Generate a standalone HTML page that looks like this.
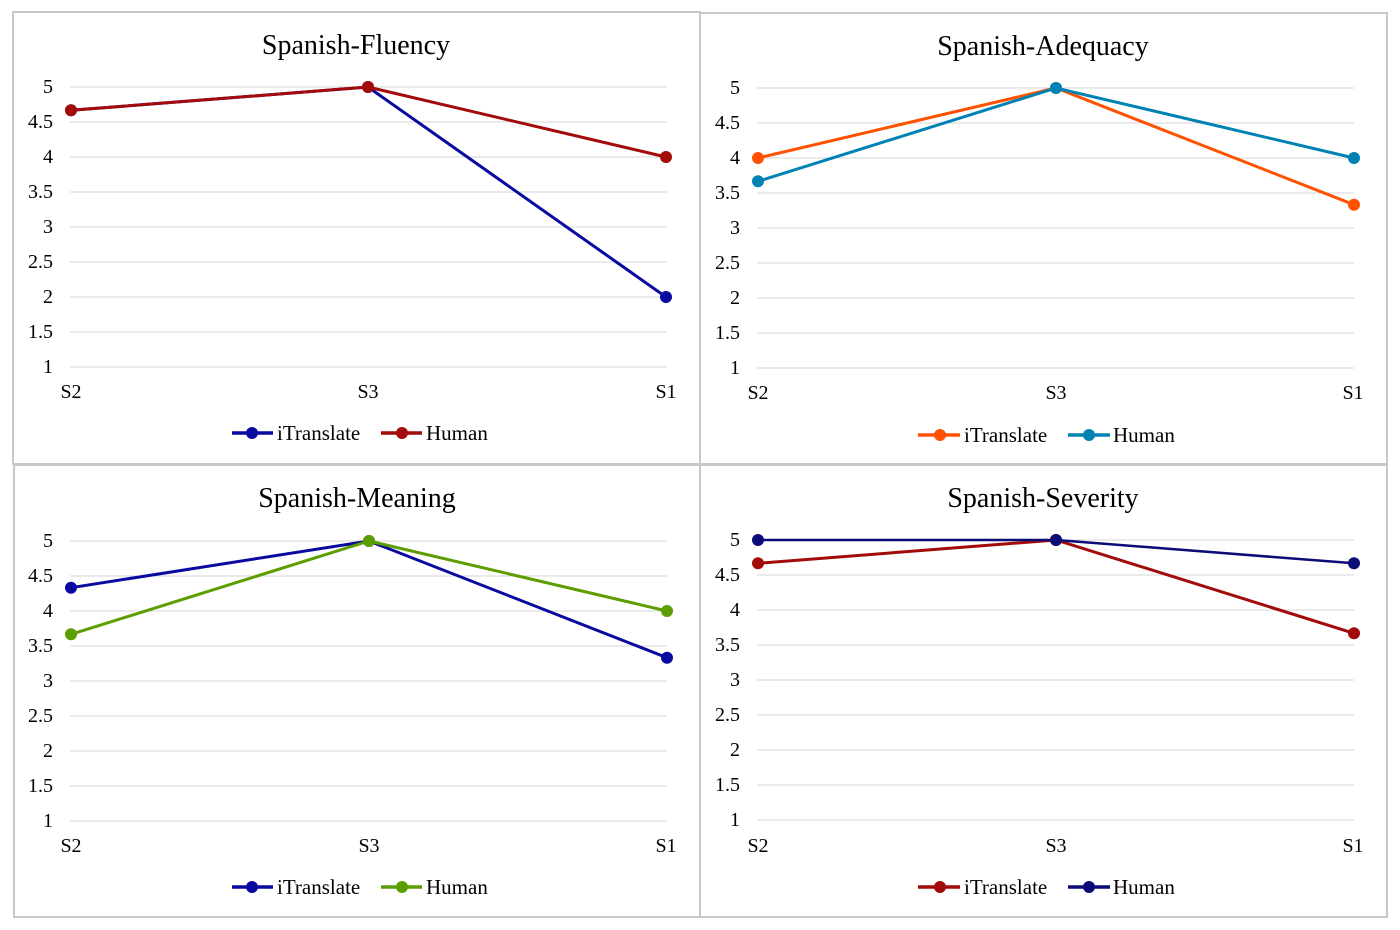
<!DOCTYPE html>
<html><head><meta charset="utf-8"><style>
html,body{margin:0;padding:0;background:#fff;}
svg{display:block;}
text{font-family:"Liberation Serif","Times New Roman",serif;fill:#000;}
.t{font-size:28px;text-anchor:middle;}
.y{font-size:20px;text-anchor:end;}
.x{font-size:20px;text-anchor:middle;}
.l{font-size:21px;}
.g{stroke:#d4d4d4;stroke-width:1;}
.b{fill:none;stroke:#c8c8c8;stroke-width:2;}
</style></head><body>
<svg width="1400" height="930" viewBox="0 0 1400 930" xmlns="http://www.w3.org/2000/svg">
<rect width="1400" height="930" fill="#fff"/>
<rect class="b" x="13" y="12" width="687" height="452"/>
<rect class="b" x="700" y="13" width="687" height="451"/>
<rect class="b" x="14" y="465" width="686" height="452"/>
<rect class="b" x="700" y="465" width="687" height="452"/>

<!-- Panel TL -->
<text class="t" x="356" y="54">Spanish-Fluency</text>
<g class="g">
<line x1="70" x2="667" y1="87" y2="87"/><line x1="70" x2="667" y1="122" y2="122"/><line x1="70" x2="667" y1="157" y2="157"/><line x1="70" x2="667" y1="192" y2="192"/><line x1="70" x2="667" y1="227" y2="227"/><line x1="70" x2="667" y1="262" y2="262"/><line x1="70" x2="667" y1="297" y2="297"/><line x1="70" x2="667" y1="332" y2="332"/><line x1="70" x2="667" y1="367" y2="367"/>
</g>
<text class="y" x="53" y="93">5</text><text class="y" x="53" y="128">4.5</text><text class="y" x="53" y="163">4</text><text class="y" x="53" y="198">3.5</text><text class="y" x="53" y="233">3</text><text class="y" x="53" y="268">2.5</text><text class="y" x="53" y="303">2</text><text class="y" x="53" y="338">1.5</text><text class="y" x="53" y="373">1</text>
<text class="x" x="71" y="398">S2</text><text class="x" x="368" y="398">S3</text><text class="x" x="666" y="398">S1</text>
<polyline points="71,110.3 368,87 666,297" fill="none" stroke="#0a0aa0" stroke-width="3"/>
<g fill="#0a0aa0"><circle cx="71" cy="110.3" r="6"/><circle cx="368" cy="87" r="6"/><circle cx="666" cy="297" r="6"/></g>
<polyline points="71,110.3 368,87 666,157" fill="none" stroke="#a30a0a" stroke-width="3"/>
<g fill="#a30a0a"><circle cx="71" cy="110.3" r="6"/><circle cx="368" cy="87" r="6"/><circle cx="666" cy="157" r="6"/></g>
<line x1="232" x2="273" y1="433" y2="433" stroke="#0a0aa0" stroke-width="3.5"/><circle cx="252" cy="433" r="6" fill="#0a0aa0"/>
<text class="l" x="277" y="440">iTranslate</text>
<line x1="381" x2="422" y1="433" y2="433" stroke="#a30a0a" stroke-width="3.5"/><circle cx="402" cy="433" r="6" fill="#a30a0a"/>
<text class="l" x="426" y="440">Human</text>

<!-- Panel TR -->
<text class="t" x="1043" y="55">Spanish-Adequacy</text>
<g class="g">
<line x1="757" x2="1354" y1="88" y2="88"/><line x1="757" x2="1354" y1="123" y2="123"/><line x1="757" x2="1354" y1="158" y2="158"/><line x1="757" x2="1354" y1="193" y2="193"/><line x1="757" x2="1354" y1="228" y2="228"/><line x1="757" x2="1354" y1="263" y2="263"/><line x1="757" x2="1354" y1="298" y2="298"/><line x1="757" x2="1354" y1="333" y2="333"/><line x1="757" x2="1354" y1="368" y2="368"/>
</g>
<text class="y" x="740" y="94">5</text><text class="y" x="740" y="129">4.5</text><text class="y" x="740" y="164">4</text><text class="y" x="740" y="199">3.5</text><text class="y" x="740" y="234">3</text><text class="y" x="740" y="269">2.5</text><text class="y" x="740" y="304">2</text><text class="y" x="740" y="339">1.5</text><text class="y" x="740" y="374">1</text>
<text class="x" x="758" y="399">S2</text><text class="x" x="1056" y="399">S3</text><text class="x" x="1353" y="399">S1</text>
<polyline points="758,158 1056,88 1354,204.7" fill="none" stroke="#ff5200" stroke-width="3"/>
<g fill="#ff5200"><circle cx="758" cy="158" r="6"/><circle cx="1056" cy="88" r="6"/><circle cx="1354" cy="204.7" r="6"/></g>
<polyline points="758,181.3 1056,88 1354,158" fill="none" stroke="#0083b3" stroke-width="3"/>
<g fill="#0083b3"><circle cx="758" cy="181.3" r="6"/><circle cx="1056" cy="88" r="6"/><circle cx="1354" cy="158" r="6"/></g>
<line x1="918" x2="960" y1="435" y2="435" stroke="#ff5200" stroke-width="3.5"/><circle cx="940" cy="435" r="6" fill="#ff5200"/>
<text class="l" x="964" y="442">iTranslate</text>
<line x1="1068" x2="1110" y1="435" y2="435" stroke="#0083b3" stroke-width="3.5"/><circle cx="1089" cy="435" r="6" fill="#0083b3"/>
<text class="l" x="1113" y="442">Human</text>

<!-- Panel BL -->
<text class="t" x="357" y="507">Spanish-Meaning</text>
<g class="g">
<line x1="70" x2="667" y1="541" y2="541"/><line x1="70" x2="667" y1="576" y2="576"/><line x1="70" x2="667" y1="611" y2="611"/><line x1="70" x2="667" y1="646" y2="646"/><line x1="70" x2="667" y1="681" y2="681"/><line x1="70" x2="667" y1="716" y2="716"/><line x1="70" x2="667" y1="751" y2="751"/><line x1="70" x2="667" y1="786" y2="786"/><line x1="70" x2="667" y1="821" y2="821"/>
</g>
<text class="y" x="53" y="547">5</text><text class="y" x="53" y="582">4.5</text><text class="y" x="53" y="617">4</text><text class="y" x="53" y="652">3.5</text><text class="y" x="53" y="687">3</text><text class="y" x="53" y="722">2.5</text><text class="y" x="53" y="757">2</text><text class="y" x="53" y="792">1.5</text><text class="y" x="53" y="827">1</text>
<text class="x" x="71" y="852">S2</text><text class="x" x="369" y="852">S3</text><text class="x" x="666" y="852">S1</text>
<polyline points="71,587.7 369,541 667,657.7" fill="none" stroke="#0a0aa0" stroke-width="3"/>
<g fill="#0a0aa0"><circle cx="71" cy="587.7" r="6"/><circle cx="369" cy="541" r="6"/><circle cx="667" cy="657.7" r="6"/></g>
<polyline points="71,634.3 369,541 667,611" fill="none" stroke="#5c9e00" stroke-width="3"/>
<g fill="#5c9e00"><circle cx="71" cy="634.3" r="6"/><circle cx="369" cy="541" r="6"/><circle cx="667" cy="611" r="6"/></g>
<line x1="232" x2="273" y1="887" y2="887" stroke="#0a0aa0" stroke-width="3.5"/><circle cx="252" cy="887" r="6" fill="#0a0aa0"/>
<text class="l" x="277" y="894">iTranslate</text>
<line x1="381" x2="422" y1="887" y2="887" stroke="#5c9e00" stroke-width="3.5"/><circle cx="402" cy="887" r="6" fill="#5c9e00"/>
<text class="l" x="426" y="894">Human</text>

<!-- Panel BR -->
<text class="t" x="1043" y="507">Spanish-Severity</text>
<g class="g">
<line x1="757" x2="1354" y1="540" y2="540"/><line x1="757" x2="1354" y1="575" y2="575"/><line x1="757" x2="1354" y1="610" y2="610"/><line x1="757" x2="1354" y1="645" y2="645"/><line x1="757" x2="1354" y1="680" y2="680"/><line x1="757" x2="1354" y1="715" y2="715"/><line x1="757" x2="1354" y1="750" y2="750"/><line x1="757" x2="1354" y1="785" y2="785"/><line x1="757" x2="1354" y1="820" y2="820"/>
</g>
<text class="y" x="740" y="546">5</text><text class="y" x="740" y="581">4.5</text><text class="y" x="740" y="616">4</text><text class="y" x="740" y="651">3.5</text><text class="y" x="740" y="686">3</text><text class="y" x="740" y="721">2.5</text><text class="y" x="740" y="756">2</text><text class="y" x="740" y="791">1.5</text><text class="y" x="740" y="826">1</text>
<text class="x" x="758" y="852">S2</text><text class="x" x="1056" y="852">S3</text><text class="x" x="1353" y="852">S1</text>
<polyline points="758,563.3 1056,540 1354,633.3" fill="none" stroke="#a30a0a" stroke-width="3"/>
<g fill="#a30a0a"><circle cx="758" cy="563.3" r="6"/><circle cx="1056" cy="540" r="6"/><circle cx="1354" cy="633.3" r="6"/></g>
<polyline points="758,540 1056,540 1354,563.3" fill="none" stroke="#0c0c78" stroke-width="2.5"/>
<g fill="#0c0c78"><circle cx="758" cy="540" r="6"/><circle cx="1056" cy="540" r="6"/><circle cx="1354" cy="563.3" r="6"/></g>
<line x1="918" x2="960" y1="887" y2="887" stroke="#a30a0a" stroke-width="3.5"/><circle cx="940" cy="887" r="6" fill="#a30a0a"/>
<text class="l" x="964" y="894">iTranslate</text>
<line x1="1068" x2="1110" y1="887" y2="887" stroke="#0c0c78" stroke-width="3.5"/><circle cx="1089" cy="887" r="6" fill="#0c0c78"/>
<text class="l" x="1113" y="894">Human</text>
</svg>
</body></html>
